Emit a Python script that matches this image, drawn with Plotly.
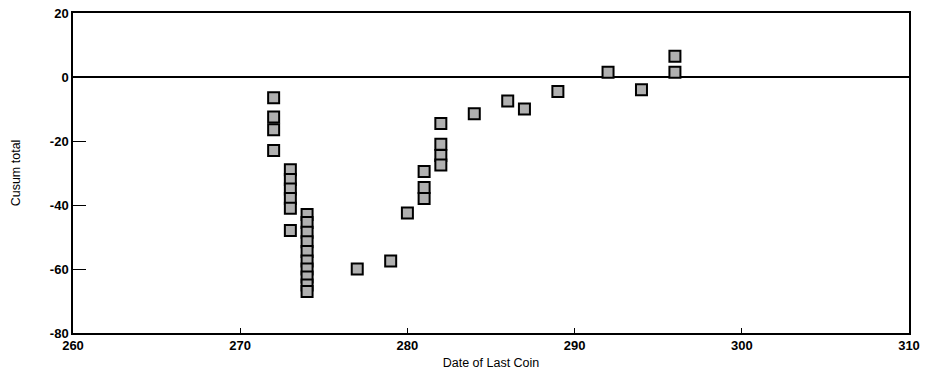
import plotly.graph_objects as go

# Date of last coin for each hoard, and cumulative sum total
dates = [272, 272, 272, 272,
         273, 273, 273, 273, 273, 273,
         274, 274, 274, 274, 274, 274, 274, 274, 274, 274,
         277, 279, 280,
         281, 281, 281,
         282, 282, 282, 282,
         284, 286, 287, 289, 292, 294, 296, 296]
cusum = [-6.5, -12.5, -16.5, -23,
         -29, -32, -35, -38, -41, -48,
         -43, -45.5, -48.5, -51.5, -54.5, -57.5, -60, -62.5, -65, -67,
         -60, -57.5, -42.5,
         -29.5, -34.5, -38,
         -14.5, -21, -24.5, -27.5,
         -11.5, -7.5, -10, -4.5, 1.5, -4, 6.5, 1.5]

x_ticks = [260, 270, 280, 290, 300, 310]
y_ticks = [-80, -60, -40, -20, 0, 20]
y_labels = ["-80", "-60", "-40", "-20", "0", "20"]

fig = go.Figure()
fig.add_trace(go.Scatter(
    x=dates, y=cusum, mode="markers",
    marker=dict(symbol="square", size=11, color="#b0b0b0",
                line=dict(color="black", width=2)),
    showlegend=False,
))

fig.update_layout(
    width=927, height=386,
    margin=dict(l=73, r=18, t=13, b=53),
    plot_bgcolor="white", paper_bgcolor="white",
    font=dict(family="Liberation Sans, Arial, sans-serif", color="black"),
)
fig.update_xaxes(
    range=[260, 310], tickvals=x_ticks, ticks="inside", ticklen=5,
    tickcolor="black", showgrid=False, zeroline=False, automargin=False,
    ticklabeloverflow="allow",
    showline=True, linecolor="black", linewidth=1.5, mirror=True,
    tickfont=dict(size=13, weight="bold"),
    title=dict(text="Date of Last Coin", font=dict(size=12.5), standoff=6),
)
fig.update_yaxes(
    range=[-80, 20], tickvals=y_ticks, ticktext=y_labels,
    ticks="inside", ticklen=13, automargin=False,
    ticklabeloverflow="allow",
    tickcolor="black", showgrid=False,
    zeroline=True, zerolinecolor="black", zerolinewidth=1.5,
    showline=True, linecolor="black", linewidth=1.5, mirror=True,
    tickfont=dict(size=13, weight="bold"),
    title=dict(text="Cusum total", font=dict(size=12.5), standoff=26),
)

fig.write_html("out.html", config={"displayModeBar": False})

# remove the browser's default body margin so the figure sits at the page origin
with open("out.html", "r", encoding="utf-8") as f:
    html = f.read()
html = html.replace("<head>", "<head><style>html,body{margin:0;padding:0;overflow:hidden}</style>", 1)
with open("out.html", "w", encoding="utf-8") as f:
    f.write(html)
